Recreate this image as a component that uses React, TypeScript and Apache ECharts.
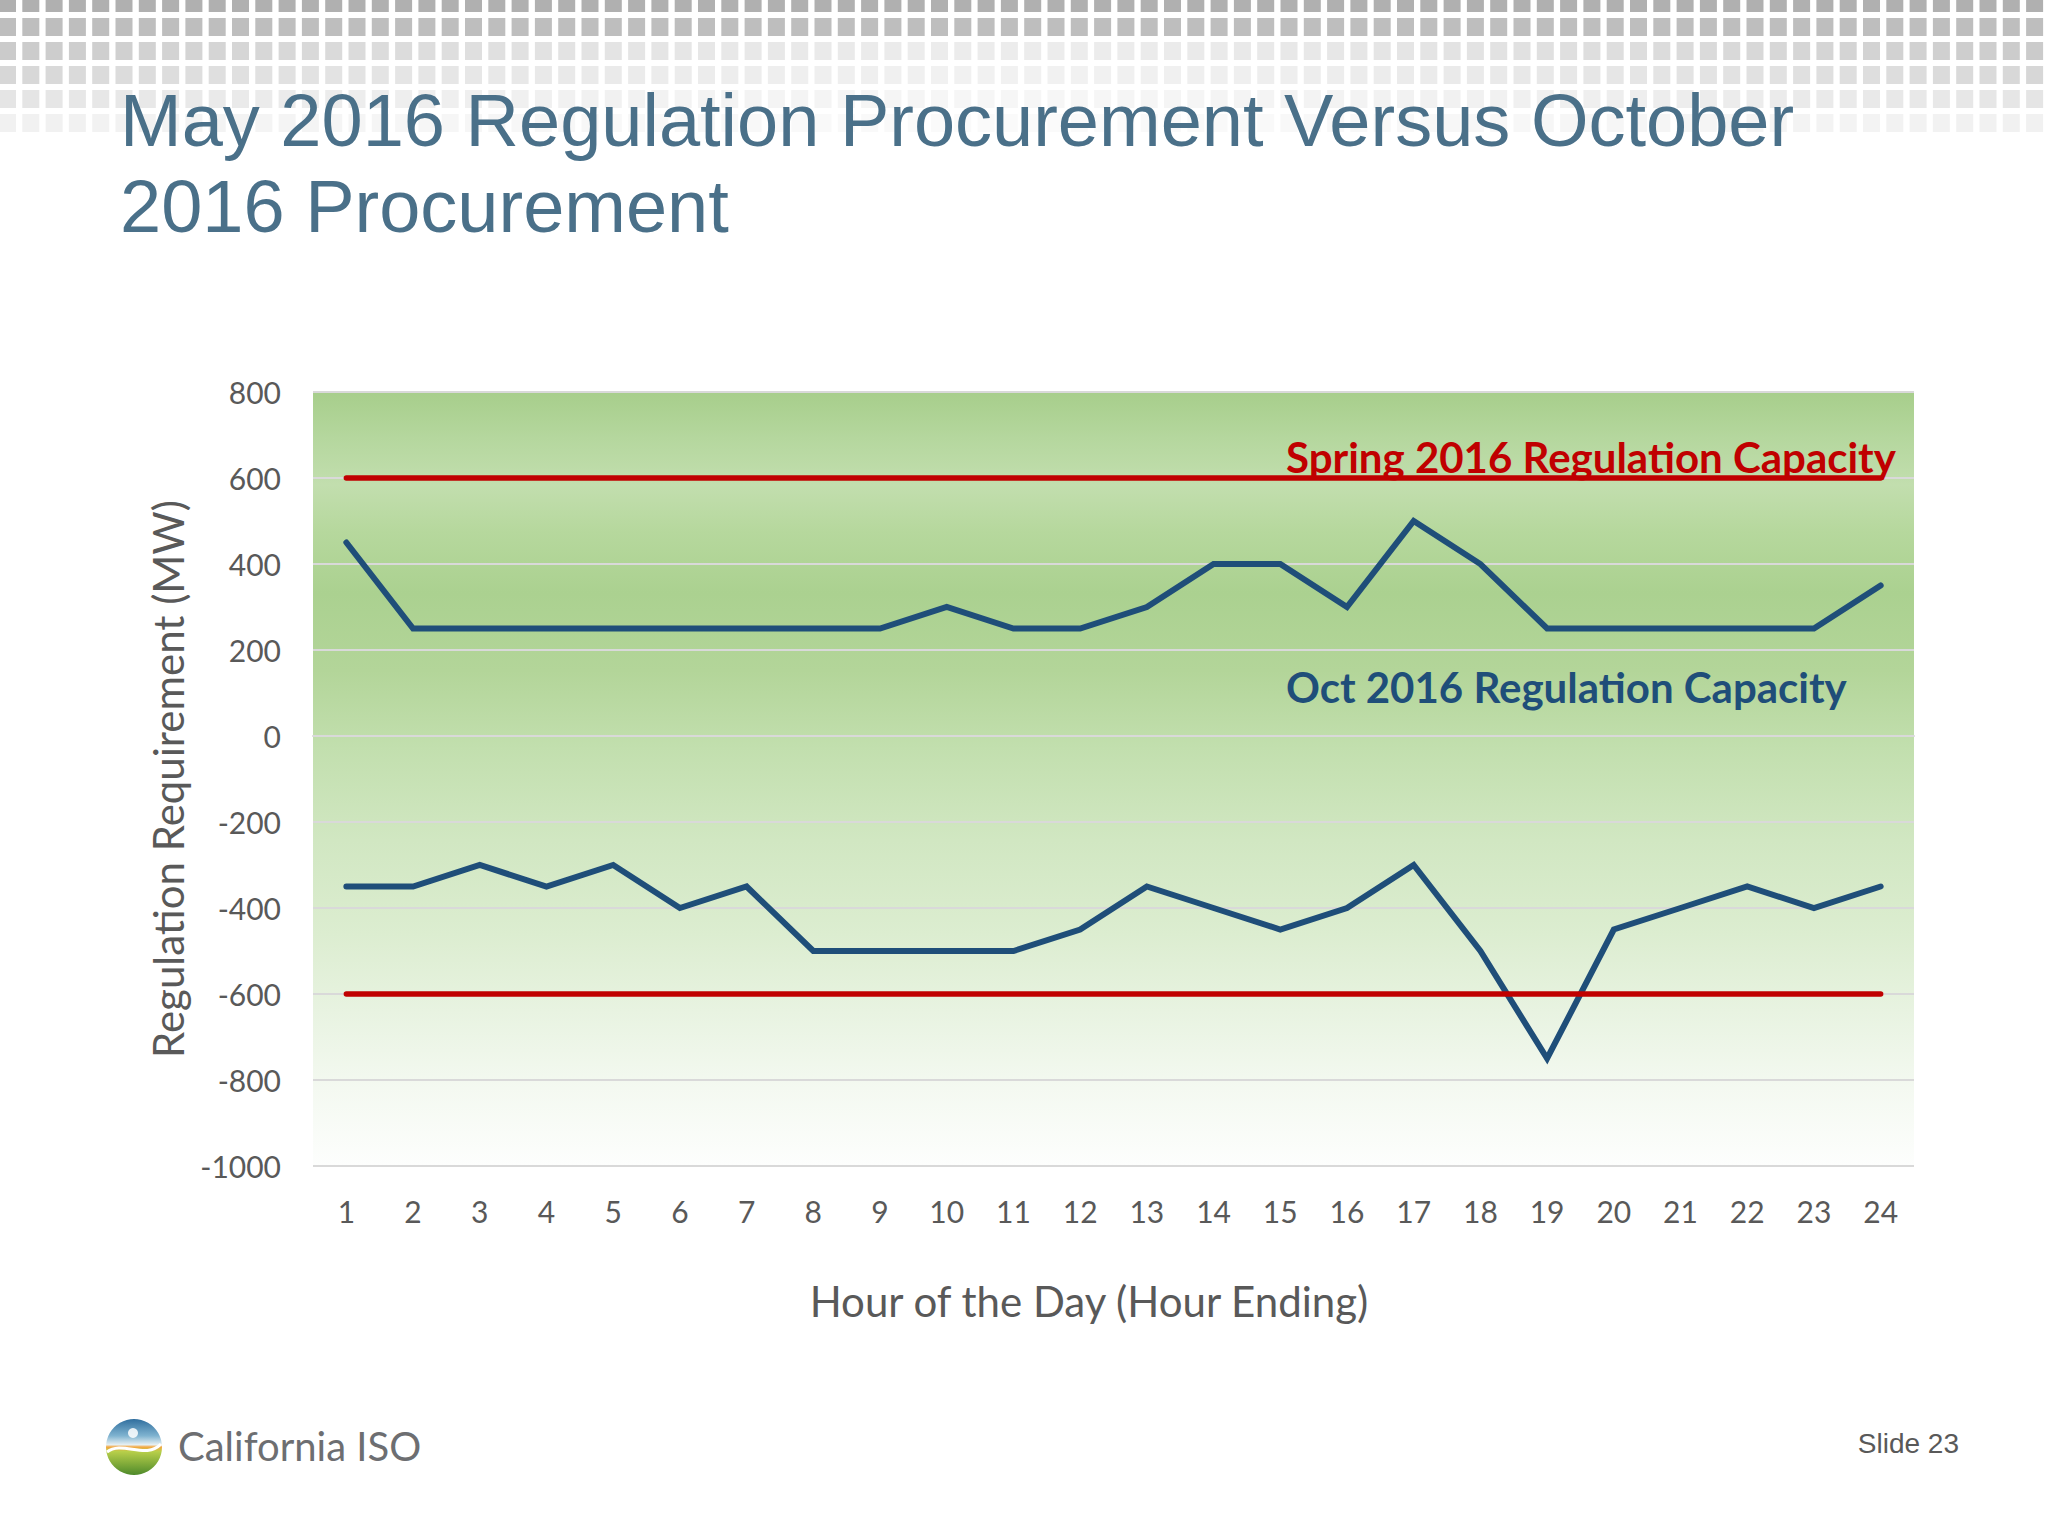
import React, { useEffect, useRef } from "react";
import * as echarts from "echarts";

const hours = ["1", "2", "3", "4", "5", "6", "7", "8", "9", "10", "11", "12", "13", "14", "15", "16", "17", "18", "19", "20", "21", "22", "23", "24"];
const oct2016Upward = [450, 250, 250, 250, 250, 250, 250, 250, 250, 300, 250, 250, 300, 400, 400, 300, 500, 400, 250, 250, 250, 250, 250, 350];
const oct2016Downward = [-350, -350, -300, -350, -300, -400, -350, -500, -500, -500, -500, -450, -350, -400, -450, -400, -300, -500, -750, -450, -400, -350, -400, -350];
const spring2016Upward = [600, 600, 600, 600, 600, 600, 600, 600, 600, 600, 600, 600, 600, 600, 600, 600, 600, 600, 600, 600, 600, 600, 600, 600];
const spring2016Downward = [-600, -600, -600, -600, -600, -600, -600, -600, -600, -600, -600, -600, -600, -600, -600, -600, -600, -600, -600, -600, -600, -600, -600, -600];
const yMin = -1000;
const yMax = 800;
const yStep = 200;

const titleText = "May 2016 Regulation Procurement Versus October\n2016 Procurement";
const xAxisTitle = "Hour of the Day (Hour Ending)";
const yAxisTitle = "Regulation Requirement (MW)";
const springLabel = "Spring 2016 Regulation Capacity";
const octLabel = "Oct 2016 Regulation Capacity";

const FONT = "Lato, 'Noto Sans', sans-serif";
const BLUE = "#1f4e79";
const RED = "#c00000";

export default function App() {
  const ref = useRef<HTMLDivElement>(null);

  useEffect(() => {
    const chart = echarts.init(ref.current!, null, { renderer: "svg" });
    const W = 2048;

    // decorative header pattern of squares
    const pattern: any[] = [];
    const rowYs = [-6, 18, 42, 66, 90, 114];
    const rowAlpha = [0.75, 0.62, 0.5, 0.38, 0.25, 0.14];
    for (let r = 0; r < rowYs.length; r++) {
      for (let x = -1; x < W; x += 23.3) {
        const edge = Math.pow(Math.abs((2 * (x + 8)) / W - 1), 1.5);
        const f = r < 2 ? 1 : 0.35 + 0.65 * edge;
        const a = rowAlpha[r] * f;
        pattern.push({
          type: "rect",
          silent: true,
          z: 0,
          shape: { x, y: rowYs[r], width: 17, height: 18 },
          style: { fill: `rgba(150,150,150,${a.toFixed(3)})` },
        });
      }
    }

    const plotBg = new echarts.graphic.LinearGradient(0, 0, 0, 1, [
      { offset: 0, color: "#a7ce8b" },
      { offset: 0.06, color: "#b5d79e" },
      { offset: 0.12, color: "#c2deae" },
      { offset: 0.18, color: "#b6d89d" },
      { offset: 0.26, color: "#abd190" },
      { offset: 0.36, color: "#b3d599" },
      { offset: 0.46, color: "#c2dfae" },
      { offset: 0.58, color: "#d1e7c2" },
      { offset: 0.7, color: "#dcedd0" },
      { offset: 0.8, color: "#e8f3e1" },
      { offset: 0.9, color: "#f4f9f1" },
      { offset: 1, color: "#fdfefd" },
    ]);

    const logoFill = new echarts.graphic.LinearGradient(0, 0, 0, 1, [
      { offset: 0, color: "#2f6e9e" },
      { offset: 0.3, color: "#7fb3d0" },
      { offset: 0.46, color: "#e6f0f3" },
      { offset: 0.5, color: "#f4a640" },
      { offset: 0.58, color: "#b8cf4a" },
      { offset: 1, color: "#4e8a2b" },
    ]);

    const lineSeries = (name: string, data: number[], color: string, width: number, z: number) => ({
      name,
      type: "line",
      data,
      symbol: "none",
      z,
      lineStyle: { color, width, cap: "round", join: "miter" },
      itemStyle: { color },
      silent: true,
    });

    chart.setOption({
      animation: false,
      backgroundColor: "#ffffff",
      title: {
        text: titleText,
        left: 120,
        top: 77,
        padding: 0,
        textStyle: {
          fontFamily: "'Liberation Sans', Arial, sans-serif",
          fontSize: 74,
          fontWeight: "normal",
          color: "#4a7089",
          lineHeight: 86,
        },
      },
      grid: {
        left: 313,
        top: 392,
        width: 1601,
        height: 774,
        show: true,
        borderWidth: 0,
        backgroundColor: plotBg,
      },
      xAxis: {
        type: "category",
        data: hours,
        boundaryGap: true,
        axisLine: { show: true, lineStyle: { color: "#d9d9d9", width: 2 } },
        axisTick: { show: false },
        axisLabel: { color: "#595959", fontSize: 30, fontFamily: FONT, margin: 30 },
        splitLine: { show: false },
      },
      yAxis: {
        type: "value",
        min: yMin,
        max: yMax,
        interval: yStep,
        axisLine: { show: false },
        axisTick: { show: false },
        axisLabel: {
          color: "#595959",
          fontSize: 30,
          fontFamily: FONT,
          margin: 32,
          formatter: (v: number) => String(v),
        },
        splitLine: { show: true, lineStyle: { color: "#d9d9d9", width: 2 } },
        name: yAxisTitle,
        nameLocation: "middle",
        nameRotate: 90,
        nameGap: 121,
        nameTextStyle: { color: "#595959", fontSize: 42, fontFamily: FONT },
      },
      series: [
        lineSeries("Oct 2016 Upward", oct2016Upward, BLUE, 6, 3),
        lineSeries("Oct 2016 Downward", oct2016Downward, BLUE, 6, 3),
        lineSeries("Spring 2016 Upward", spring2016Upward, RED, 5.5, 4),
        lineSeries("Spring 2016 Downward", spring2016Downward, RED, 5.5, 4),
      ],
      graphic: [
        ...pattern,
        {
          type: "text",
          z: 100,
          x: 1286,
          y: 457,
          style: {
            text: springLabel,
            fill: RED,
            fontFamily: FONT,
            fontWeight: "bold",
            fontSize: 42,
            align: "left",
            verticalAlign: "middle",
          },
        },
        {
          type: "text",
          z: 100,
          x: 1286,
          y: 687,
          style: {
            text: octLabel,
            fill: BLUE,
            fontFamily: FONT,
            fontWeight: "bold",
            fontSize: 42,
            align: "left",
            verticalAlign: "middle",
          },
        },
        {
          type: "text",
          z: 100,
          x: 1089,
          y: 1301,
          style: {
            text: xAxisTitle,
            fill: "#595959",
            fontFamily: FONT,
            fontSize: 42,
            align: "center",
            verticalAlign: "middle",
          },
        },
        {
          type: "text",
          z: 100,
          x: 1959,
          y: 1443,
          style: {
            text: "Slide 23",
            fill: "#595959",
            fontFamily: "'Liberation Sans', Arial, sans-serif",
            fontSize: 28,
            align: "right",
            verticalAlign: "middle",
          },
        },
        {
          type: "circle",
          z: 100,
          shape: { cx: 134, cy: 1447, r: 28 },
          style: { fill: logoFill },
        },
        {
          type: "bezierCurve",
          z: 101,
          shape: { x1: 107, y1: 1452, cpx1: 122, cpy1: 1440, cpx2: 146, cpy2: 1460, x2: 161, y2: 1444 },
          style: { stroke: "#ffffff", lineWidth: 3, fill: null },
        },
        {
          type: "circle",
          z: 101,
          shape: { cx: 133, cy: 1433, r: 5 },
          style: { fill: "rgba(255,255,255,0.85)" },
        },
        {
          type: "text",
          z: 100,
          x: 178,
          y: 1446,
          style: {
            text: "California ISO",
            fill: "#6d6e71",
            fontFamily: FONT,
            fontSize: 40,
            align: "left",
            verticalAlign: "middle",
          },
        },
      ],
    });

    return () => {
      chart.dispose();
    };
  }, []);

  return (
    <div
      ref={ref}
      style={{ position: "fixed", left: 0, top: 0, width: 2048, height: 1536, background: "#ffffff" }}
    />
  );
}
